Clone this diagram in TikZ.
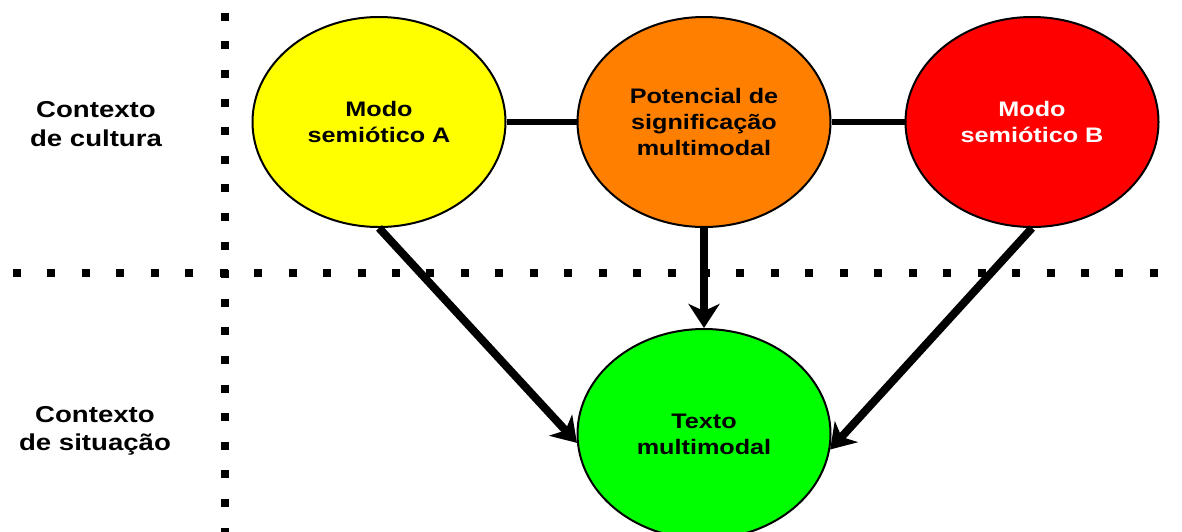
\documentclass[tikz,border=0pt]{standalone}
\usepackage{fontspec}
\usetikzlibrary{shapes.geometric,arrows.meta}
\newfontfamily\lblfont{Liberation Sans}[FakeStretch=1.2]
\definecolor{modoA}{RGB}{255,255,0}
\definecolor{potencial}{RGB}{255,128,0}
\definecolor{modoB}{RGB}{255,0,0}
\definecolor{texto}{RGB}{0,255,0}
\tikzset{
  bubble/.style={ellipse, draw=black, line width=2pt, minimum width=253pt,
    minimum height=210pt, inner sep=0pt, align=center,
    font=\lblfont\bfseries\fontsize{21}{26}\selectfont},
  ctxlabel/.style={align=center, inner sep=0pt,
    font=\lblfont\bfseries\fontsize{23}{28.4}\selectfont},
  divider/.style={line width=8pt},
  link/.style={line width=6pt},
  flow/.style={line width=8pt, -{Stealth[length=24pt,width=31pt,inset=7pt]}}
}
\begin{document}
\begin{tikzpicture}[x=1pt,y=-1pt]
\useasboundingbox (0,0) rectangle (1182,531);

% dividers between the levels of context
\draw[divider, dash pattern=on 8pt off 26.45pt] (13,273) -- (1170,273);
\draw[divider, dash pattern=on 8pt off 20.6pt] (225,12.7) -- (225,545);

% level labels
\node[ctxlabel] (cult) at (96,124) {Contexto\\de cultura};
\node[ctxlabel] (sit) at (95,431) {Contexto\\de situação};

% semiotic modes and resources
\node[bubble, fill=modoA] (A) at (379,122) {Modo\\semiótico A};
\node[bubble, fill=potencial] (P) at (704,122) {Potencial de\\significação\\multimodal};
\node[bubble, fill=modoB, text=white] (B) at (1032,122) {Modo\\semiótico B};
\node[bubble, fill=texto] (T) at (704,434) {Texto\\multimodal};

% connections
\draw[link] (A.east) -- (P.west);
\draw[link] (P.east) -- (B.west);
\draw[flow] (A.south) -- (T.184);
\draw[flow] (P.south) -- (T.north);
\draw[flow] (B.south) -- (T.353);
\end{tikzpicture}
\end{document}
